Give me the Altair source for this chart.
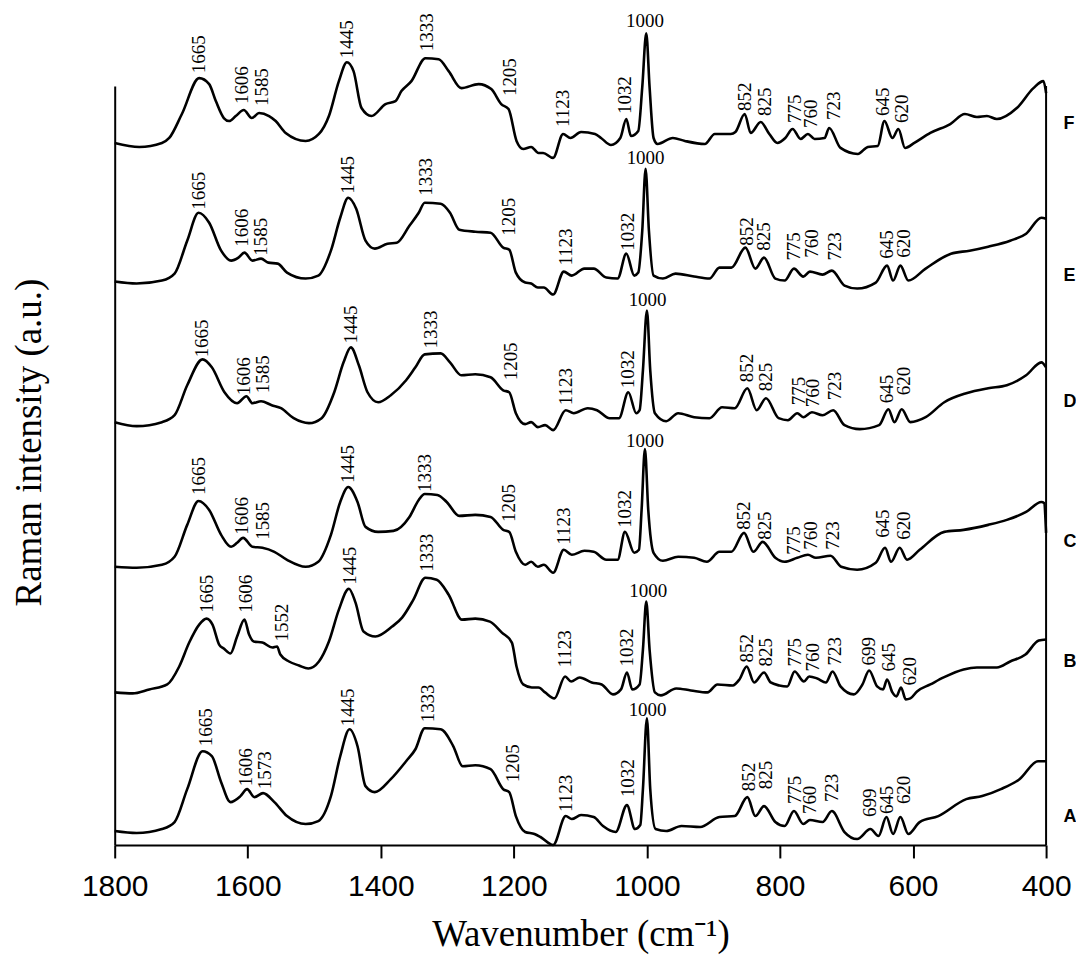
import altair as alt
import pandas as pd

# ---------------- spectra (wavenumber, stacked intensity a.u.) ----------------
WN_F = [1800,1763,1729,1718,1699,1673,1658,1648,1636,1628,1618,1606,1594,1583,1568,1558,1543,1513,1493,1478,
        1463,1451,1441,1429,1414,1393,1378,1369,1354,1333,1313,1298,1279,1253,1234,1219,1208,1196,1186,1174,
        1163,1156,1141,1126,1115,1099,1078,1069,1054,1040,1031,1024,1013,1007,1001,996,990,984,961,943,
        913,898,874,867,853,844,829,816,804,792,781,769,758,748,733,726,709,683,668,653,
        643,631,622,612,598,574,544,522,504,489,474,444,419,404,400]
I_F = [704,700,704,709,733,769,763,746,729,726,731,737,729,734,731,726,714,706,713,731,
       766,785,776,739,731,743,746,756,766,789,788,776,759,763,758,743,738,706,698,700,
       694,694,689,713,709,715,713,709,702,709,728,711,716,760,814,760,709,703,709,706,
       703,713,713,715,733,714,725,713,704,709,718,708,713,708,709,719,699,693,700,701,
       726,709,718,699,704,714,723,733,730,731,728,739,759,766,754]

WN_E = [1800,1767,1729,1710,1691,1674,1658,1640,1625,1614,1605,1593,1580,1569,1555,1541,1513,1494,1475,1461,
        1449,1437,1423,1409,1390,1376,1357,1343,1334,1310,1296,1282,1258,1235,1216,1207,1197,1183,1174,1164,
        1155,1141,1125,1113,1094,1080,1061,1044,1031,1019,1013,1007,1002,997,990,976,957,929,906,891,
        873,852,837,824,807,793,779,765,755,736,722,703,684,656,639,630,619,607,581,543,
        515,487,454,430,407,400]
I_E = [565,563,566,573,606,634,624,596,586,589,594,586,588,584,583,574,568,571,596,629,
       649,638,606,598,603,604,621,634,644,643,634,617,615,614,599,597,574,564,563,559,
       559,552,575,571,578,578,569,568,593,571,574,616,678,616,571,568,573,570,568,579,
       579,599,578,589,568,566,578,570,575,572,576,561,558,564,581,566,581,566,578,593,
       596,600,606,613,629,628]

WN_D = [1800,1767,1729,1710,1691,1668,1654,1635,1616,1602,1593,1580,1564,1550,1531,1508,1489,1470,1456,1445,
        1433,1420,1404,1385,1362,1348,1334,1310,1296,1279,1258,1235,1216,1207,1197,1183,1174,1164,1153,1141,
        1122,1110,1089,1075,1056,1042,1028,1016,1011,1006,1000,995,988,971,953,929,906,887,868,849,
        835,821,802,788,774,765,752,736,720,703,680,651,637,628,617,604,581,553,520,487,
        459,430,407,400]
I_D = [424,420,424,431,461,487,479,454,443,450,443,445,441,438,428,423,428,454,484,499,
       481,454,444,451,466,479,492,493,484,471,472,469,456,454,433,422,424,419,421,416,
       436,433,438,436,428,428,454,433,436,476,536,476,433,425,433,429,428,439,438,458,
       436,448,428,426,433,429,434,431,436,421,417,421,437,424,437,424,429,444,453,458,
       461,471,484,479]

WN_C = [1800,1767,1729,1710,1691,1674,1658,1640,1625,1616,1607,1593,1578,1560,1541,1513,1494,1475,1461,1449,
        1435,1423,1404,1381,1357,1343,1334,1315,1301,1282,1258,1235,1216,1207,1197,1183,1174,1164,1155,1141,
        1125,1113,1094,1080,1061,1044,1033,1019,1012,1008,1003,998,990,976,953,929,910,891,873,854,
        840,826,807,793,774,758,746,724,708,684,656,642,633,620,609,590,553,524,487,459,
        430,407,403,400]
I_C = [279,278,281,289,321,345,336,311,299,303,308,299,298,294,286,279,284,311,344,359,
       344,319,314,315,329,346,352,351,344,330,331,329,316,314,294,281,284,279,281,273,
       296,291,295,294,286,286,314,293,296,336,397,336,293,285,289,288,284,294,294,313,
       294,304,288,284,288,291,288,290,279,276,283,298,284,298,286,296,314,316,321,326,
       334,344,343,313]

WN_B = [1800,1773,1748,1721,1703,1688,1673,1662,1653,1643,1636,1626,1616,1605,1598,1591,1578,1563,1556,1551,
        1538,1523,1509,1493,1478,1463,1448,1438,1426,1408,1383,1368,1351,1333,1316,1298,1278,1258,1236,1218,
        1203,1196,1186,1173,1163,1153,1139,1123,1114,1101,1083,1068,1051,1039,1030,1022,1011,1006,1001,996,
        988,979,956,934,909,894,871,861,850,839,824,814,801,789,778,764,756,744,731,721,
        709,689,676,666,654,645,639,631,625,618,611,604,594,574,554,524,504,474,454,431,
        411,400]
I_B = [153,152,156,161,179,203,221,227,221,201,197,192,209,226,211,204,203,198,199,191,
       184,180,177,184,204,236,257,243,214,209,219,228,246,268,266,251,226,227,224,213,
       203,179,161,158,158,153,147,169,164,168,163,161,151,156,173,156,161,196,244,196,
       153,150,157,155,153,161,160,166,179,163,173,163,160,159,174,164,169,167,163,174,
       159,151,161,175,159,156,166,153,149,158,146,147,154,161,168,176,178,178,184,191,
       205,206]

WN_A = [1800,1767,1729,1710,1691,1668,1654,1640,1626,1611,1601,1590,1577,1560,1541,1513,1494,1475,1461,1447,
        1435,1423,1409,1385,1362,1348,1334,1310,1291,1277,1258,1235,1216,1207,1197,1183,1169,1160,1141,1122,
        1113,1099,1080,1066,1047,1030,1018,1010,1006,1000,995,987,971,948,920,891,868,849,837,824,
        807,793,779,765,755,736,722,703,684,664,652,640,630,619,607,590,562,520,496,468,
        440,412,400]
I_A = [14,12,16,23,56,94,89,63,43,49,56,48,52,43,29,21,24,49,89,116,
       99,59,53,66,84,96,117,116,99,79,80,76,56,53,29,13,11,8,0,29,
       26,30,28,19,13,40,16,20,56,127,56,16,14,19,18,28,29,48,29,39,
       23,19,34,21,25,23,34,13,6,16,9,28,11,28,11,23,29,46,49,56,
       66,84,84]

# ---------------- peak labels (text, wavenumber, intensity of label foot) ----------------
LBL_F = (["1665","1606","1585","1445","1333","1205","1123","1032","852","825","775","760","723","645","620"],
         [1673,1608,1578,1451,1331,1206,1126,1033,853,823,778,754,719,645,616],
         [774,743,741,789,796,751,720,733,736,731,724,719,727,731,724])
LBL_E = (["1665","1606","1585","1445","1333","1205","1123","1032","852","825","775","760","723","645","620"],
         [1673,1609,1580,1449,1332,1207,1122,1028,849,824,779,752,717,639,614],
         [637,600,591,653,651,611,581,596,601,596,586,589,586,588,589])
LBL_D = (["1665","1606","1585","1445","1333","1205","1123","1032","852","825","775","760","723","645","620"],
         [1668,1605,1577,1445,1324,1204,1122,1028,849,821,771,750,717,639,614],
         [489,451,453,503,498,466,441,458,464,455,441,439,446,443,451])
LBL_C = (["1665","1606","1585","1445","1333","1205","1123","1032","852","825","775","760","723","645","620"],
         [1673,1609,1577,1449,1334,1207,1125,1033,854,823,779,754,721,645,614],
         [351,311,306,363,354,324,301,318,316,306,291,296,296,308,306])
LBL_B = (["1665","1606","1552","1445","1333","1123","1032","852","825","775","760","723","699","645","620"],
         [1661,1603,1548,1447,1331,1123,1030,850,821,778,751,718,666,636,604],
         [233,233,204,261,274,178,179,183,179,179,174,180,180,174,160])
LBL_A = (["1665","1606","1573","1445","1333","1205","1123","1032","852","825","775","760","723","699","645","620"],
         [1663,1603,1574,1449,1329,1202,1122,1028,847,821,777,755,722,664,639,614],
         [99,59,56,119,123,63,33,48,54,56,41,31,43,28,31,41])

# horizontal "1000" labels (wavenumber, intensity of label centre)
TOP_WN = [1003, 1002, 999, 1003, 998, 999]
TOP_I = [826, 689, 546, 405, 255, 135]

# sample names
NAMES = ["F", "E", "D", "C", "B", "A"]
NAME_WN = [374, 374, 374, 374, 374, 374]
NAME_I = [723, 571, 444, 304, 183, 28]

X_TICKS = [1800, 1600, 1400, 1200, 1000, 800, 600, 400]

traces = [("F", WN_F, I_F), ("E", WN_E, I_E), ("D", WN_D, I_D),
          ("C", WN_C, I_C), ("B", WN_B, I_B), ("A", WN_A, I_A)]
rows = []
for name, wn, it in traces:
    for w, v in zip(wn, it):
        rows.append({"trace": name, "wn": w, "I": v})
spec = pd.DataFrame(rows)

lrows = []
for t, w, v in [LBL_F, LBL_E, LBL_D, LBL_C, LBL_B, LBL_A]:
    for a, b, c in zip(t, w, v):
        lrows.append({"txt": a, "wn": b, "I": c})
labels = pd.DataFrame(lrows)
tops = pd.DataFrame({"txt": ["1000"] * 6, "wn": TOP_WN, "I": TOP_I})
names = pd.DataFrame({"txt": NAMES, "wn": NAME_WN, "I": NAME_I})

W, H = 934, 761
xscale = alt.Scale(domain=[400, 1800], reverse=True, nice=False, zero=False)
yscale = alt.Scale(domain=[0, H], nice=False, zero=False)

xax = alt.Axis(values=X_TICKS, format="d", title="Wavenumber (cm⁻¹)", grid=False,
               labelFlush=False, labelOverlap=False, tickSize=13, tickWidth=2,
               labelPadding=14, titleX=W / 2, titleY=90, titleBaseline="middle",
               titleAlign="center")
yax = alt.Axis(title="Raman intensity (a.u.)", labels=False, ticks=False, grid=False,
               domain=True, titleAngle=270, titleX=-85, titleY=357,
               titleAlign="center", titleBaseline="middle")

lines = alt.Chart(spec).mark_line(color="black", strokeWidth=2.6, interpolate="monotone").encode(
    x=alt.X("wn:Q", scale=xscale, axis=xax),
    y=alt.Y("I:Q", scale=yscale, axis=yax),
    detail="trace:N",
)

right = alt.Chart(pd.DataFrame({"wn": [400]})).mark_rule(color="black", strokeWidth=2).encode(
    x=alt.X("wn:Q", scale=xscale), y=alt.value(0), y2=alt.value(H))

peak_txt = alt.Chart(labels).mark_text(angle=270, align="left", baseline="middle",
                                       font="Liberation Serif", fontSize=19, color="black").encode(
    x=alt.X("wn:Q", scale=xscale), y=alt.Y("I:Q", scale=yscale), text="txt:N")

top_txt = alt.Chart(tops).mark_text(align="center", baseline="middle",
                                    font="Liberation Serif", fontSize=19, color="black").encode(
    x=alt.X("wn:Q", scale=xscale), y=alt.Y("I:Q", scale=yscale), text="txt:N")

name_txt = alt.Chart(names).mark_text(align="left", baseline="middle", font="Liberation Sans",
                                      fontSize=18, fontWeight="bold", color="black").encode(
    x=alt.X("wn:Q", scale=xscale), y=alt.Y("I:Q", scale=yscale), text="txt:N")

chart = alt.layer(lines, right, peak_txt, top_txt, name_txt).properties(
    width=W, height=H,
    padding={"left": 107, "top": 77, "right": 30, "bottom": 112},
    autosize=alt.AutoSizeParams(type="none"),
).configure_view(stroke=None).configure_axis(
    domainColor="black", domainWidth=2, tickColor="black",
    labelFont="Liberation Sans", labelFontSize=30, labelColor="black",
    titleFont="Liberation Serif", titleFontSize=37, titleFontWeight="normal", titleColor="black",
)

chart.save("out.html", embed_options={"renderer": "svg", "actions": False})
